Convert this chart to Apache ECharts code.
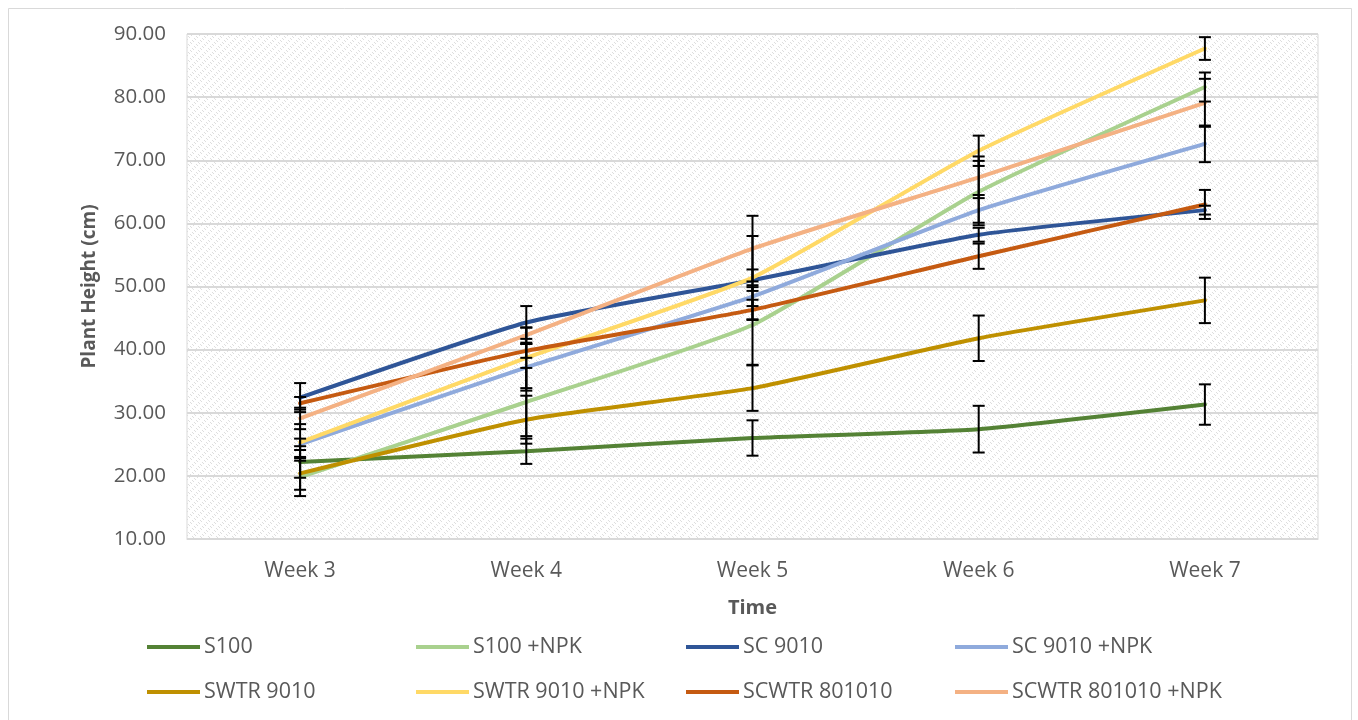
<!DOCTYPE html>
<html>
<head>
<meta charset="utf-8">
<script src="https://cdn.jsdelivr.net/npm/echarts@6/dist/echarts.min.js"></script>
<style>
  html, body { margin: 0; padding: 0; background: #ffffff; }
  #chart { width: 1358px; height: 720px; }
</style>
</head>
<body>
<div id="chart"></div>
<script>
// Plant height (cm) per week for each treatment, with standard-error half-widths
const weeks = ['Week 3', 'Week 4', 'Week 5', 'Week 6', 'Week 7'];
const seriesNames = ['S100', 'S100 +NPK', 'SC 9010', 'SC 9010 +NPK', 'SWTR 9010', 'SWTR 9010 +NPK', 'SCWTR 801010', 'SCWTR 801010 +NPK'];

const s100 = [22.2, 23.9, 26.0, 27.4, 31.3];
const s100Npk = [19.8, 31.7, 43.9, 65.0, 81.6];
const sc9010 = [32.4, 44.3, 51.0, 58.2, 62.1];
const sc9010Npk = [25.0, 37.2, 48.4, 62.1, 72.6];
const swtr9010 = [20.4, 28.9, 33.9, 41.8, 47.8];
const swtr9010Npk = [25.3, 38.7, 51.4, 71.5, 87.7];
const scwtr801010 = [31.5, 39.8, 46.3, 54.8, 63.0];
const scwtr801010Npk = [29.1, 42.3, 56.0, 67.3, 79.1];

const s100Err = [2.5, 2.0, 2.8, 3.7, 3.2];
const s100NpkErr = [3.0, 5.4, 6.3, 4.9, 2.3];
const sc9010Err = [2.3, 2.6, 1.7, 1.1, 0.7];
const sc9010NpkErr = [0.9, 3.7, 1.5, 2.4, 2.9];
const swtr9010Err = [2.6, 3.8, 3.6, 3.6, 3.6];
const swtr9010NpkErr = [2.9, 4.8, 6.6, 2.4, 1.8];
const scwtr801010Err = [1.0, 1.1, 1.6, 2.0, 2.3];
const scwtr801010NpkErr = [1.7, 1.2, 5.2, 3.3, 3.8];

const yTicks = [10, 20, 30, 40, 50, 60, 70, 80, 90];

const values = [s100, s100Npk, sc9010, sc9010Npk, swtr9010, swtr9010Npk, scwtr801010, scwtr801010Npk];
const errors = [s100Err, s100NpkErr, sc9010Err, sc9010NpkErr, swtr9010Err, swtr9010NpkErr, scwtr801010Err, scwtr801010NpkErr];
const colors = ['#548235', '#A9D18E', '#2F5597', '#8FAADC', '#BF9000', '#FFD966', '#C55A11', '#F4B183'];

// Diagonal dotted hatch used as the plot-area fill
function makeHatch() {
  const c = document.createElement('canvas');
  c.width = 8; c.height = 8;
  const ctx = c.getContext('2d');
  ctx.fillStyle = '#ffffff';
  ctx.fillRect(0, 0, 8, 8);
  ctx.fillStyle = '#dedede';
  for (let y = 0; y < 8; y++) {
    for (let x = 0; x < 8; x++) {
      const d = ((x - y) % 4 + 4) % 4;
      if (d === 0 && ((x + y) % 8) < 4) ctx.fillRect(x, y, 1, 1);
    }
  }
  return c;
}

const FONT = '"Open Sans", "Liberation Sans", sans-serif';
const chart = echarts.init(document.getElementById('chart'));

const lineSeries = seriesNames.map((name, i) => ({
  name: name,
  type: 'line',
  data: values[i],
  smooth: 0.15,
  symbol: 'none',
  lineStyle: { width: 4, color: colors[i], cap: 'round' },
  itemStyle: { color: colors[i] },
  z: 2 + i * 0.01
}));

const errorData = [];
values.forEach((vals, i) => {
  vals.forEach((v, j) => {
    errorData.push([j, v - errors[i][j], v + errors[i][j]]);
  });
});

const errorSeries = {
  type: 'custom',
  name: 'error',
  data: errorData,
  z: 5,
  silent: true,
  renderItem: function (params, api) {
    const x = api.value(0);
    const lo = api.coord([x, api.value(1)]);
    const hi = api.coord([x, api.value(2)]);
    const hw = 6;
    const style = { stroke: '#000000', lineWidth: 2 };
    return {
      type: 'group',
      children: [
        { type: 'line', shape: { x1: lo[0], y1: lo[1], x2: hi[0], y2: hi[1] }, style: style },
        { type: 'line', shape: { x1: lo[0] - hw, y1: lo[1], x2: lo[0] + hw, y2: lo[1] }, style: style },
        { type: 'line', shape: { x1: hi[0] - hw, y1: hi[1], x2: hi[0] + hw, y2: hi[1] }, style: style }
      ]
    };
  }
};

// One legend block per entry, laid out in a 4 x 2 table
const legendCols = [147, 416, 686, 955];
const legendRows = [636, 681];
const legends = seriesNames.map((name, i) => ({
  data: [name],
  left: legendCols[i % 4],
  top: legendRows[Math.floor(i / 4)],
  icon: 'rect',
  itemWidth: 53,
  itemHeight: 4,
  itemGap: 0,
  padding: 0,
  selectedMode: false,
  textStyle: { fontFamily: FONT, fontSize: 21.5, color: '#595959', padding: [0, 0, 0, -1] }
}));

chart.setOption({
  animation: false,
  backgroundColor: '#ffffff',
  color: colors,
  graphic: [{
    type: 'rect',
    shape: { x: 8.5, y: 8.5, width: 1343, height: 720 },
    style: { fill: 'none', stroke: '#d9d9d9', lineWidth: 1 },
    silent: true,
    z: 0
  }],
  legend: legends,
  grid: {
    left: 187, right: 40, top: 34, bottom: 181,
    show: true,
    backgroundColor: { image: makeHatch(), repeat: 'repeat' },
    borderColor: '#d9d9d9',
    borderWidth: 1
  },
  xAxis: {
    type: 'category',
    data: weeks,
    boundaryGap: true,
    name: 'Time',
    nameLocation: 'middle',
    nameGap: 59,
    nameTextStyle: { fontFamily: FONT, fontSize: 20, fontWeight: 'bold', color: '#595959' },
    axisLine: { show: true, lineStyle: { color: '#d9d9d9', width: 1 } },
    axisTick: { show: false },
    axisLabel: { fontFamily: FONT, fontSize: 21, color: '#595959', margin: 22 },
    splitLine: { show: false }
  },
  yAxis: {
    type: 'value',
    min: yTicks[0],
    max: yTicks[yTicks.length - 1],
    interval: 10,
    name: 'Plant Height (cm)',
    nameLocation: 'middle',
    nameGap: 88,
    nameRotate: 90,
    nameTextStyle: { fontFamily: FONT, fontSize: 19, fontWeight: 'bold', color: '#595959' },
    axisLine: { show: false },
    axisTick: { show: false },
    axisLabel: {
      fontFamily: FONT, fontSize: 20.5, color: '#595959', margin: 21,
      formatter: function (v) { return v.toFixed(2); }
    },
    splitLine: { show: true, lineStyle: { color: '#d9d9d9', width: 2 } }
  },
  series: lineSeries.concat([errorSeries])
});
</script>
</body>
</html>
